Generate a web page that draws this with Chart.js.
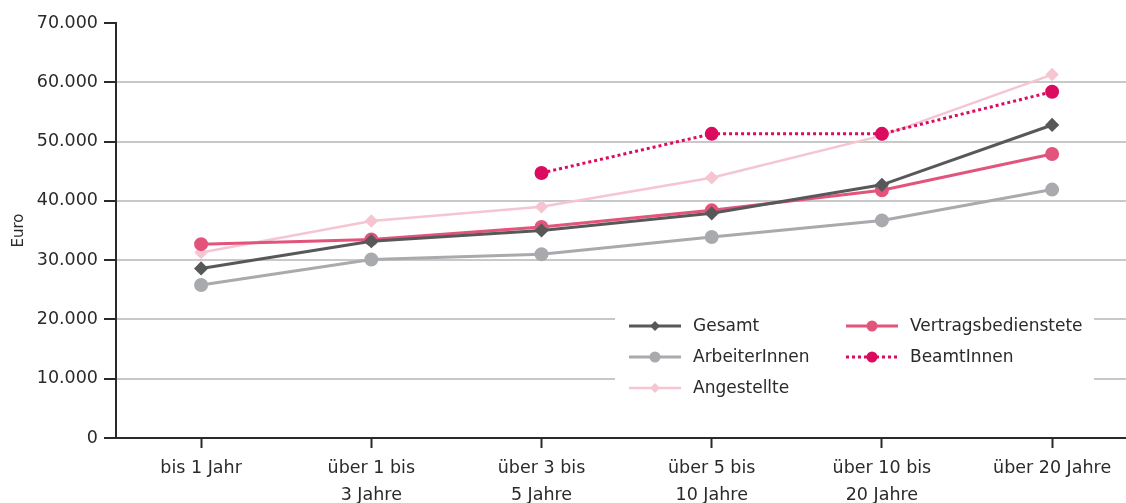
<!DOCTYPE html>
<html>
<head>
<meta charset="utf-8">
<script src="https://cdn.jsdelivr.net/npm/chart.js@4/dist/chart.umd.min.js"></script>
<style>
  html, body { margin: 0; padding: 0; background: #fff; overflow: hidden; }
  #wrap { width: 1136px; height: 503px; position: relative; }
</style>
</head>
<body>
<div id="wrap"><canvas id="grafico"></canvas></div>
<script>
// categorie (Dienstjahre)
const kategorien = [
    ['bis 1 Jahr'],
    ['über 1 bis', '3 Jahre'],
    ['über 3 bis', '5 Jahre'],
    ['über 5 bis', '10 Jahre'],
    ['über 10 bis', '20 Jahre'],
    ['über 20 Jahre']
];
// valori in Euro
const gesamt = [28600, 33200, 35000, 37900, 42700, 52800];
const arbeiterInnen = [25800, 30100, 31000, 33900, 36700, 41900];
const angestellte = [31300, 36600, 39000, 43900, 51000, 61300];
const vertragsbedienstete = [32700, 33500, 35600, 38400, 41800, 47900];
const beamtInnen = [null, null, 44700, 51300, 51300, 58400];
const yTicks = [0, 10000, 20000, 30000, 40000, 50000, 60000, 70000];

const testo = '#2a2a2a';
const fontBase = "'DejaVu Sans', sans-serif";

function formatta(v) {
    return String(v).replace(/\B(?=(\d{3})+(?!\d))/g, '.');
}

// punti {x: indice categoria, y: valore}
function punti(serie) {
    return serie.map((v, i) => ({ x: i, y: v }));
}

// legenda dentro l'area del grafico, due colonne
const legendaPlugin = {
    id: 'legendaInterna',
    afterDatasetsDraw(chart) {
        const ctx = chart.ctx;
        const area = chart.chartArea;
        const x0 = area.left + 499;
        const y0 = area.top + 282;
        ctx.save();
        ctx.fillStyle = '#ffffff';
        ctx.fillRect(x0, y0, 479, 100);
        const posizioni = [
            [0, 0], [0, 1], [0, 2], [1, 0], [1, 1]
        ];
        chart.data.datasets.forEach((ds, k) => {
            const col = posizioni[k][0];
            const riga = posizioni[k][1];
            const lx = x0 + 14 + col * 217;
            const ly = y0 + 21 + riga * 31;
            ctx.strokeStyle = ds.borderColor;
            ctx.lineWidth = ds.borderWidth;
            ctx.setLineDash(ds.borderDash || []);
            ctx.beginPath();
            ctx.moveTo(lx, ly);
            ctx.lineTo(lx + 52, ly);
            ctx.stroke();
            ctx.setLineDash([]);
            ctx.fillStyle = ds.pointBackgroundColor;
            const r = ds.pointRadius;
            ctx.beginPath();
            if (ds.pointStyle === 'rectRot') {
                ctx.moveTo(lx + 26, ly - r);
                ctx.lineTo(lx + 26 + r, ly);
                ctx.lineTo(lx + 26, ly + r);
                ctx.lineTo(lx + 26 - r, ly);
                ctx.closePath();
            } else {
                ctx.arc(lx + 26, ly, r, 0, Math.PI * 2);
            }
            ctx.fill();
            ctx.fillStyle = testo;
            ctx.font = "17px " + fontBase;
            ctx.textBaseline = 'middle';
            ctx.textAlign = 'left';
            ctx.fillText(ds.label, lx + 64, ly + 1);
        });
        ctx.restore();
    }
};

const ctxGrafico = document.getElementById('grafico').getContext('2d');
const grafico = new Chart(ctxGrafico, {
    type: 'line',
    data: {
        datasets: [
            {
                label: 'Gesamt',
                data: punti(gesamt),
                borderColor: '#58585a',
                pointBackgroundColor: '#58585a',
                pointBorderColor: '#58585a',
                borderWidth: 3,
                pointStyle: 'rectRot',
                pointRadius: 5,
                order: 2
            },
            {
                label: 'ArbeiterInnen',
                data: punti(arbeiterInnen),
                borderColor: '#a8aaad',
                pointBackgroundColor: '#a8aaad',
                pointBorderColor: '#a8aaad',
                borderWidth: 3,
                pointStyle: 'circle',
                pointRadius: 5.5,
                order: 4
            },
            {
                label: 'Angestellte',
                data: punti(angestellte),
                borderColor: '#f5c5d1',
                pointBackgroundColor: '#f5c5d1',
                pointBorderColor: '#f5c5d1',
                borderWidth: 2.5,
                pointStyle: 'rectRot',
                pointRadius: 5,
                order: 5
            },
            {
                label: 'Vertragsbedienstete',
                data: punti(vertragsbedienstete),
                borderColor: '#e2547b',
                pointBackgroundColor: '#e2547b',
                pointBorderColor: '#e2547b',
                borderWidth: 3,
                pointStyle: 'circle',
                pointRadius: 5.5,
                order: 3
            },
            {
                label: 'BeamtInnen',
                data: punti(beamtInnen),
                borderColor: '#db0b5f',
                pointBackgroundColor: '#db0b5f',
                pointBorderColor: '#db0b5f',
                borderWidth: 3,
                borderDash: [3, 3],
                pointStyle: 'circle',
                pointRadius: 5.5,
                order: 1
            }
        ]
    },
    options: {
        responsive: true,
        maintainAspectRatio: false,
        animation: false,
        layout: { padding: { top: 23, right: 0, left: 0, bottom: 0 } },
        elements: {
            line: { tension: 0 },
            point: { borderWidth: 0, hoverRadius: 6 }
        },
        scales: {
            x: {
                type: 'linear',
                // l'originale è tagliato a destra: l'ultima categoria non ha mezzo spazio dopo
                min: -0.5,
                max: 5.44,
                afterBuildTicks(scale) {
                    scale.ticks = kategorien.map((k, i) => ({ value: i }));
                },
                grid: {
                    drawOnChartArea: false,
                    tickLength: 10,
                    tickColor: testo,
                    tickWidth: 2
                },
                border: { color: testo, width: 2 },
                ticks: {
                    color: testo,
                    font: { family: fontBase, size: 17.5, lineHeight: 1.55 },
                    padding: 7,
                    maxRotation: 0,
                    autoSkip: false,
                    callback: (v) => kategorien[v]
                },
                afterFit(scale) { scale.height = 65; }
            },
            y: {
                min: 0,
                max: 70000,
                afterBuildTicks(scale) {
                    scale.ticks = yTicks.map(v => ({ value: v }));
                },
                grid: {
                    color: (c) => (c.tick && (c.tick.value === 70000 || c.tick.value === 0)) ? 'rgba(0,0,0,0)' : '#c8c8c8',
                    lineWidth: 2,
                    tickLength: 12,
                    tickColor: testo,
                    tickWidth: 2
                },
                border: { color: testo, width: 2 },
                ticks: {
                    color: testo,
                    font: { family: fontBase, size: 17.5 },
                    padding: 6,
                    callback: (v) => formatta(v)
                },
                title: {
                    display: true,
                    text: 'Euro',
                    color: testo,
                    font: { family: fontBase, size: 15 },
                    padding: { top: 10, bottom: 0 }
                },
                afterFit(scale) { scale.width = 116; }
            }
        },
        plugins: {
            legend: { display: false },
            tooltip: { enabled: false }
        }
    },
    plugins: [legendaPlugin]
});
</script>
</body>
</html>
